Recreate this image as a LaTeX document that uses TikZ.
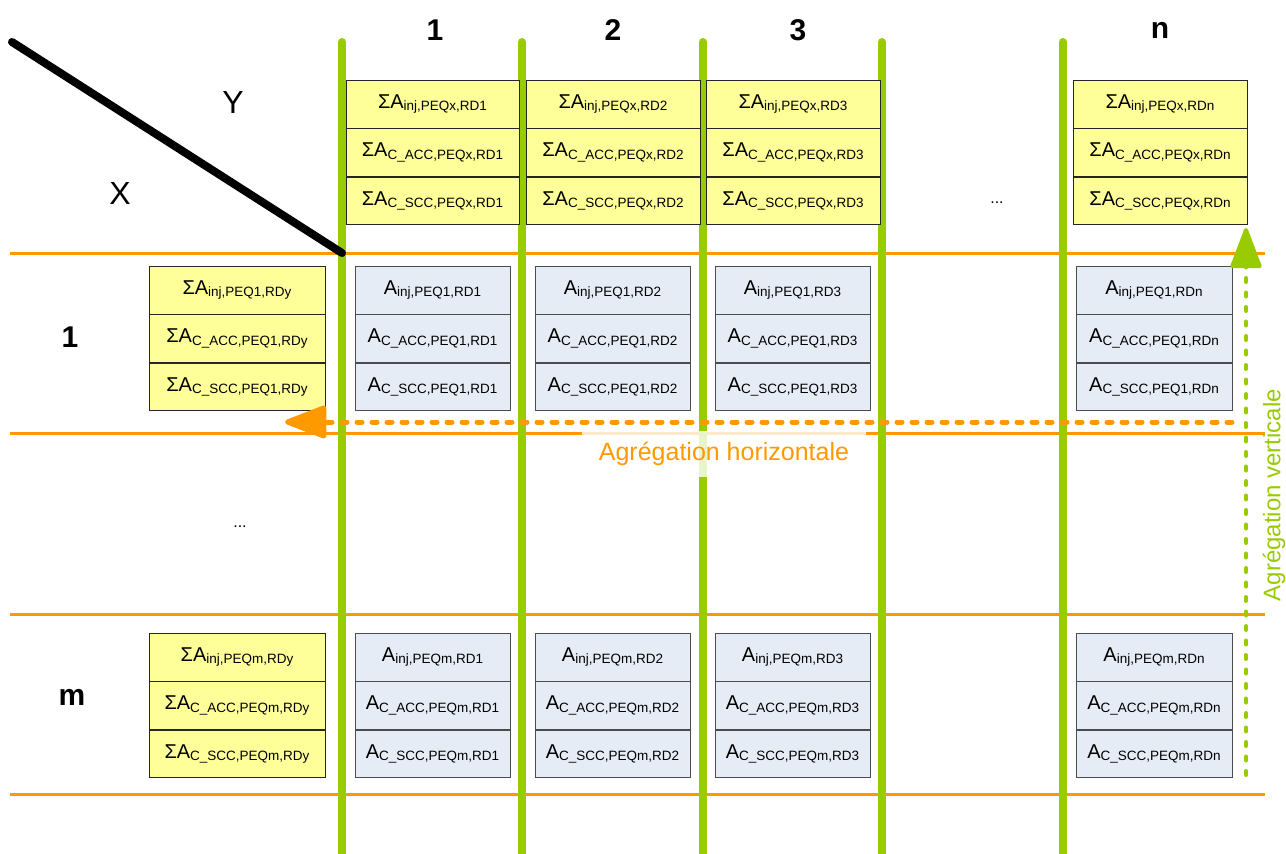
\documentclass[tikz,border=0pt]{standalone}
\usepackage{fontspec}
\setmainfont{Liberation Sans}
\usetikzlibrary{arrows.meta}
\definecolor{lgreen}{HTML}{99CC00}
\definecolor{orng}{HTML}{FF9900}
\definecolor{ylw}{HTML}{FFFF99}
\definecolor{lblue}{HTML}{E6ECF6}
\newcommand\lab[2]{{\fontsize{20}{20}\selectfont #1}\raisebox{-0.45ex}{\fontsize{13.5}{13.5}\selectfont #2}}
\newcommand\threebox[7]{%
  \node[#5, minimum width=#4, anchor=north] (#1a) at (#2,#3) {\lab{#6}{inj,#7}};
  \node[#5, minimum width=#4, anchor=north] (#1b) at (#1a.south) {\lab{#6}{C\_ACC,#7}};
  \node[#5, minimum width=#4, anchor=north] (#1c) at (#1b.south) {\lab{#6}{C\_SCC,#7}};
}
\begin{document}
\begin{tikzpicture}[x=1pt,y=-1pt,
  ycell/.style={draw=black!85, line width=0.9pt, fill=ylw, minimum height=47.5pt, inner sep=0pt},
  bcell/.style={draw=black!70, line width=0.9pt, fill=lblue, minimum height=47.5pt, inner sep=0pt},
  hline/.style={draw=orng, line width=3pt},
  vline/.style={draw=lgreen, line width=8pt},
  head/.style={font=\fontsize{30}{30}\selectfont\bfseries},
  axis/.style={font=\fontsize{32}{32}\selectfont},
  dots/.style={font=\fontsize{16}{16}\selectfont}]
\useasboundingbox (0,0) rectangle (1286,854);
% orange horizontal lines
\foreach \y in {253,433,614,794} \draw[hline] (10,\y) -- (1265,\y);
% green vertical lines
\foreach \x in {342,522,703,882,1063} \draw[vline, line cap=round] (\x,42) -- (\x,858);
% black diagonal
\coordinate (dA) at (12,42);
\coordinate (dB) at (342,253);
\draw[line width=8pt, line cap=round] (dA) -- (dB);
% headers
\node[axis] (Y) at (233,102) {Y};
\node[axis] (X) at (120,193) {X};
\node[head] (c1) at (435,30) {1};
\node[head] (c2) at (613,30) {2};
\node[head] (c3) at (798,30) {3};
\node[head] (cn) at (1160,30) {n};
\node[head] (r1) at (70,337) {1};
\node[head] (rm) at (72,697) {m};
\node[dots] (hd) at (997,203) {...};
\node[dots] (vd) at (240,527) {...};
% top sum boxes
\threebox{t1}{432.5}{80}{173}{ycell}{ΣA}{PEQx,RD1}
\threebox{t2}{613}{80}{174}{ycell}{ΣA}{PEQx,RD2}
\threebox{t3}{793}{80}{174}{ycell}{ΣA}{PEQx,RD3}
\threebox{tn}{1160}{80}{174}{ycell}{ΣA}{PEQx,RDn}
% left sum boxes
\threebox{l1}{237}{266}{176}{ycell}{ΣA}{PEQ1,RDy}
\threebox{lm}{237}{633}{176}{ycell}{ΣA}{PEQm,RDy}
% blue boxes
\threebox{b11}{432.5}{266}{155}{bcell}{A}{PEQ1,RD1}
\threebox{b12}{612.5}{266}{155}{bcell}{A}{PEQ1,RD2}
\threebox{b13}{792.5}{266}{155}{bcell}{A}{PEQ1,RD3}
\threebox{b1n}{1154}{266}{156}{bcell}{A}{PEQ1,RDn}
\threebox{bm1}{432.5}{633}{155}{bcell}{A}{PEQm,RD1}
\threebox{bm2}{612.5}{633}{155}{bcell}{A}{PEQm,RD2}
\threebox{bm3}{792.5}{633}{155}{bcell}{A}{PEQm,RD3}
\threebox{bmn}{1154}{633}{156}{bcell}{A}{PEQm,RDn}
% horizontal aggregation arrow
\coordinate (hs) at (1232,422);
\coordinate (he) at (285,422);
\draw[orng, line width=5pt, line cap=round, dash pattern=on 5pt off 10pt,
  -{Triangle[length=46pt,width=34pt,round=false]}] (hs) -- (he);
% vertical aggregation arrow
\coordinate (vs) at (1246,775);
\coordinate (ve) at (1246,228);
\draw[lgreen, line width=4pt, line cap=round, dash pattern=on 4pt off 10.5pt,
  -{Triangle[length=44pt,width=32pt,round=false]}] (vs) -- (ve);
% labels
\node[fill=white, fill opacity=0.8, text opacity=1, text=orng, minimum width=284pt, minimum height=46pt, inner sep=0pt,
  font=\fontsize{25}{25}\selectfont] (hl) at (724,454) {Agrégation horizontale};
\node[rotate=90, text=lgreen, font=\fontsize{24}{24}\selectfont, inner sep=0pt] (vl) at (1274,495) {Agrégation verticale};
\end{tikzpicture}
\end{document}
